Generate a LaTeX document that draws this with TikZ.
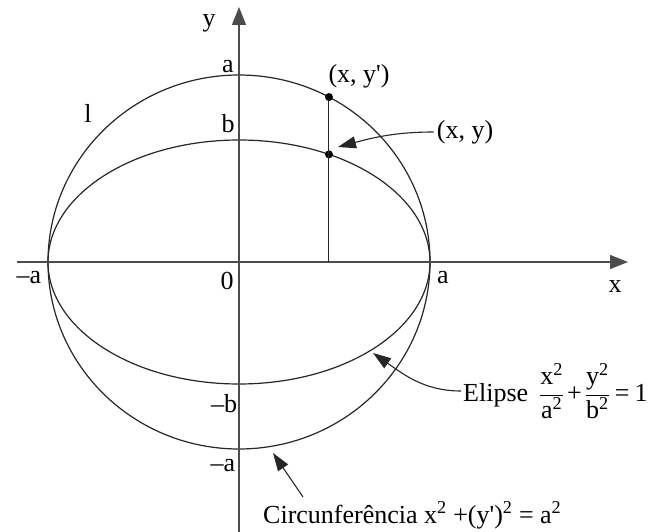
\documentclass[tikz,border=0pt]{standalone}
\usepackage{fontspec}
\setmainfont{Liberation Serif}
\usetikzlibrary{arrows.meta,calc}
\newcommand{\sqr}{\textsuperscript{2}}
\newcommand{\fr}[2]{$\displaystyle\frac{\mbox{#1\sqr}}{\mbox{#2\sqr}}$}
\begin{document}
\begin{tikzpicture}[x=1pt,y=-1pt,
  lbl/.style={font=\fontsize{26}{30}\selectfont, inner sep=0pt},
  axis/.style={line width=1.1pt, draw=black!70, -{Triangle[length=18pt,width=14pt]}},
  curve/.style={line width=1.2pt, draw=black!85},
  ptr/.style={line width=1.1pt, draw=black!85, -{Triangle[length=18pt,width=12pt]}},
  dot/.style={circle, fill=black, inner sep=0pt, minimum size=8pt}]
\useasboundingbox (0,0) rectangle (651,532);
\coordinate (O) at (239,262);
\coordinate (xs) at (17,262);
\coordinate (xe) at (628,262);
\coordinate (ys) at (239,532);
\coordinate (ye) at (239,7);
\draw[curve] (O) ellipse [x radius=191pt, y radius=187pt];
\draw[curve] (O) ellipse [x radius=191pt, y radius=122pt];
\draw[axis] (xs) -- (xe);
\draw[axis] (ys) -- (ye);
\node[dot] (P1) at ($(O)+(61.9:191pt and 187pt)$) {};
\node[dot] (P2) at ($(O)+(61.9:191pt and 122pt)$) {};
\coordinate (F) at (P1 |- O);
\draw[line width=1pt, black!85] (F) -- (P1);
% labels
\node[lbl] (ly) at (209,23) {y};
\node[lbl] (la) at (228,67) {a};
\node[lbl] (lb) at (228,124) {b};
\node[lbl] (ll) at (88,113) {l};
\node[lbl] (lma) at (29,278) {--a};
\node[lbl] (l0) at (227,281) {0};
\node[lbl] (lar) at (443,278) {a};
\node[lbl] (lx) at (615,287) {x};
\node[lbl] (lmb) at (224,404) {--b};
\node[lbl] (lma2) at (223,466) {--a};
\node[lbl] (lxyp) at (359,76) {(x, y\textquotesingle)};
\node[lbl] (lxy) at (465,132) {(x, y)};
\node[lbl, anchor=west] (lel) at (463,391) {Elipse\hspace{11pt}\fr{x}{a}\hspace{3pt}+\hspace{3pt}\fr{y}{b}\hspace{5pt}=\hspace{5pt}1};
\node[lbl, anchor=base west] (lci) at (263,523) {Circunferência x\sqr{} +(y\textquotesingle)\sqr{} = a\sqr};
% pointers
\coordinate (t1) at (338,147);
\draw[ptr, shorten <=3pt] (lxy.west) to[out=180,in=15] (t1);
\coordinate (t2) at (373,353);
\draw[ptr, shorten <=2pt] (lel.west) to[out=180,in=-35] (t2);
\coordinate (c3) at (303,497);
\coordinate (t3) at (273,453);
\draw[ptr] (c3) -- (t3);
\end{tikzpicture}
\end{document}
